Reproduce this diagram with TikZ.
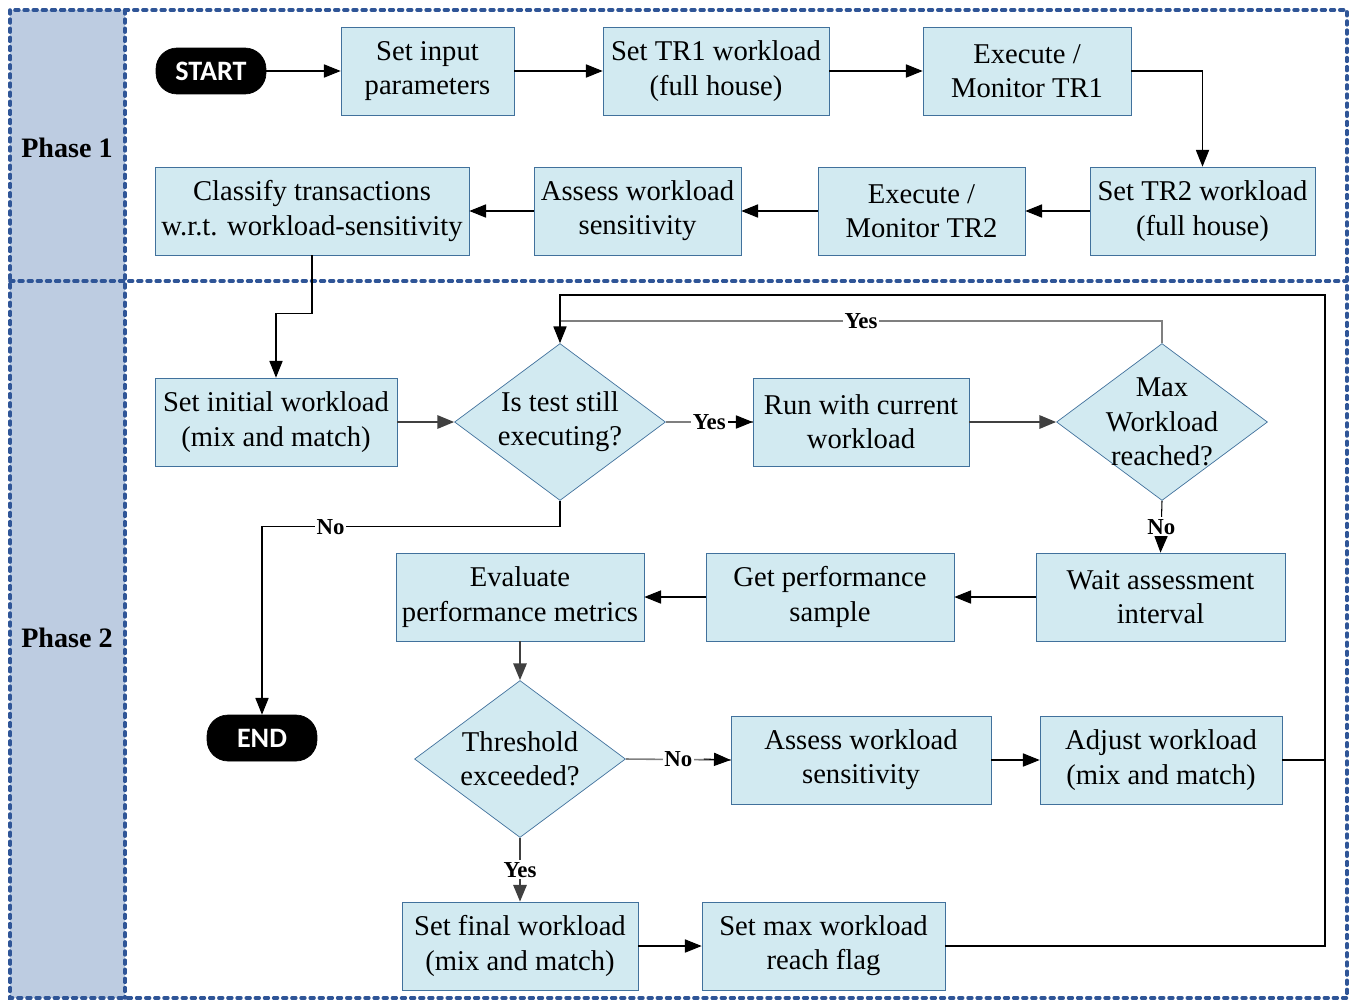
\documentclass[tikz,border=0pt]{standalone}
\usepackage{fontspec}
\setmainfont{Liberation Serif}
\newfontfamily\termfont{Carlito}
\usetikzlibrary{shapes.geometric,arrows.meta}
\definecolor{boxfill}{HTML}{D2EAF1}
\definecolor{boxline}{HTML}{41719C}
\definecolor{phasefill}{HTML}{BDCCE1}
\definecolor{phaseline}{HTML}{2F5597}
\definecolor{darkline}{HTML}{404040}
\definecolor{greyline}{HTML}{7F7F7F}

\begin{document}
\begin{tikzpicture}[x=0.02cm,y=-0.02cm,
    proc/.style={draw=boxline, fill=boxfill, minimum height=1.76cm, align=center, inner sep=1pt, font=\fontsize{16.3}{19.5}\selectfont},
    decision/.style={diamond, draw=boxline, fill=boxfill, minimum width=4.22cm, minimum height=3.14cm, inner sep=-8pt, align=center, font=\fontsize{16.3}{19.5}\selectfont},
    term/.style={draw, fill=black, rounded corners=12pt, minimum width=2.2cm, minimum height=0.92cm, text=white, font=\termfont\bfseries\fontsize{16}{19}\selectfont},
    phase/.style={font=\bfseries\fontsize{16}{19}\selectfont},
    lbl/.style={fill=white, inner sep=1pt, font=\bfseries\fontsize{13}{15}\selectfont},
    arr/.style={-{Triangle[length=9.5pt,width=7.5pt]}, line width=0.6pt},
    darr/.style={arr, draw=darkline, line width=1.3pt},
    gline/.style={draw=greyline, line width=0.9pt}]

    \useasboundingbox (0,0) rectangle (1351,1001);

    % phase frame
    \fill[phasefill] (10,10) rectangle (125,998);
    \draw[phaseline, line width=2pt, line cap=round, dash pattern=on 2.2pt off 3pt]
        (10,10) rectangle (1347,998) (125,10) -- (125,998) (10,281) -- (1347,281);
    \node[phase] (ph1) at (67,148) {Phase 1};
    \node[phase] (ph2) at (67,638) {Phase 2};

    % phase 1
    \node[term] (start) at (211,71) {START};
    \node[proc, minimum width=3.46cm] (input) at (427.5,71) {Set input\\parameters};
    \node[proc, minimum width=4.52cm] (tr1) at (716,71) {Set TR1 workload\\(full house)};
    \node[proc, minimum width=4.16cm] (exec1) at (1027,71) {Execute /\\Monitor TR1};
    \node[proc, minimum width=4.5cm] (tr2) at (1202.5,211) {Set TR2 workload\\(full house)};
    \node[proc, minimum width=4.14cm] (exec2) at (921.5,211) {Execute /\\Monitor TR2};
    \node[proc, minimum width=4.14cm] (assess1) at (637.5,211) {Assess workload\\sensitivity};
    \node[proc, minimum width=6.28cm] (classify) at (312,211) {Classify transactions\\w.r.t. workload-sensitivity};

    \draw[arr] (start) -- (input);
    \draw[arr] (input) -- (tr1);
    \draw[arr] (tr1) -- (exec1);
    \draw[arr] (exec1.east) -| (tr2.north);
    \draw[arr] (tr2) -- (exec2);
    \draw[arr] (exec2) -- (assess1);
    \draw[arr] (assess1) -- (classify);

    % phase 2
    \node[proc, minimum width=4.84cm] (init) at (276,422) {Set initial workload\\(mix and match)};
    \node[decision] (test) at (560,422) {Is test still\\executing?};
    \node[proc, minimum width=4.32cm] (run) at (861,422) {Run with current\\workload};
    \node[decision] (max) at (1162,422) {Max\\Workload\\reached?};
    \node[proc, minimum width=4.98cm] (wait) at (1160.5,597) {Wait assessment\\interval};
    \node[proc, minimum width=4.96cm] (sample) at (830,597) {Get performance\\sample};
    \node[proc, minimum width=4.96cm] (eval) at (520,597) {Evaluate\\performance metrics};
    \node[decision] (thresh) at (520,759) {Threshold\\exceeded?};
    \node[proc, minimum width=5.2cm] (assess2) at (861,760) {Assess workload\\sensitivity};
    \node[proc, minimum width=4.84cm] (adjust) at (1161,760) {Adjust workload\\(mix and match)};
    \node[proc, minimum width=4.72cm] (final) at (520,946) {Set final workload\\(mix and match)};
    \node[proc, minimum width=4.86cm] (flag) at (823.5,946) {Set max workload\\reach flag};
    \node[term] (end) at (262,738) {END};

    \draw[arr] (classify.south) -- ++(0,58) -| (init.north);
    \draw[darr] (init) -- (test);
    \draw[gline] (test.east) -- (run.west) node[lbl, midway] {Yes};
    \draw[arr] (test.east) ++(62,0) -- (run.west);
    \draw[darr] (run) -- (max);
    \draw[arr] (test.south) -- ++(0,26) -| (end.north) node[lbl, pos=0.385] {No};
    \draw[gline] (max.north) |- (test.north |- 0,321) node[lbl, pos=0.75] {Yes};
    \draw[arr] (max.south) -- (wait.north) node[lbl, midway] {No};
    \draw[arr] (wait) -- (sample);
    \draw[arr] (sample) -- (eval);
    \draw[darr] (eval) -- (thresh);
    \draw[gline] (thresh.east) -- (assess2.west) node[lbl, midway] {No};
    \draw[arr] (thresh.east) ++(78,0) -- (assess2.west);
    \draw[darr] (thresh.south) -- (final.north) node[lbl, midway, text=black] {Yes};
    \draw[arr] (assess2) -- (adjust);
    \draw[arr] (final) -- (flag);
    \draw[arr] (adjust.east) -| (1325,295) -| (test.north);
    \draw[line width=0.6pt] (flag.east) -| (1325,760);
\end{tikzpicture}
\end{document}
